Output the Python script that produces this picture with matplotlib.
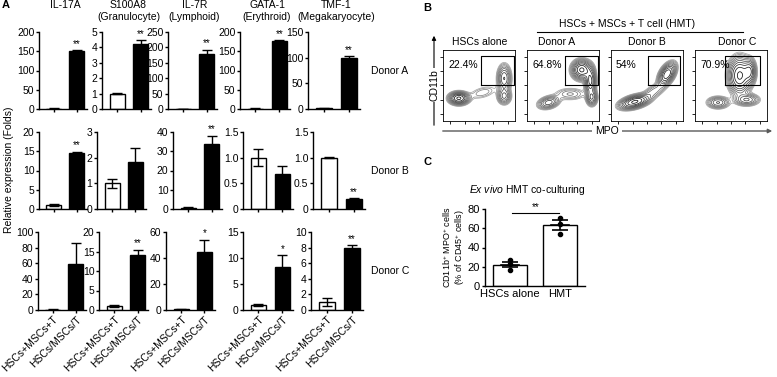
import numpy as np
import matplotlib
matplotlib.use('Agg')
import matplotlib.pyplot as plt

plt.rcParams['font.family'] = ['Liberation Sans', 'DejaVu Sans']
plt.rcParams['mathtext.fontset'] = 'custom'
plt.rcParams['mathtext.rm'] = 'Liberation Sans'
plt.rcParams['mathtext.it'] = 'Liberation Sans:italic'

W, H = 777, 377

# ---------------- panel A data ----------------
genes = ['IL-17A', 'S100A8', 'IL-7R', 'GATA-1', 'TMF-1']
cell_types = ['', '(Granulocyte)', '(Lymphoid)', '(Erythroid)', '(Megakaryocyte)']
donors = ['Donor A', 'Donor B', 'Donor C']
groups = ['HSCs+MSCs+T', 'HSCs/MSCs/T']

a_open = [1, 1.0, 1, 1, 1]
a_open_err = [0.5, 0.05, 0.5, 0.5, 0.5]
a_filled = [150, 4.25, 180, 176, 100]
a_filled_err = [2, 0.2, 12, 2, 3]
a_stars = ['**', '**', '**', '**', '**']
a_ymax = [200, 5, 250, 200, 150]
a_ystep = [50, 1, 50, 50, 50]

b_open = [1.0, 1.0, 0.7, 1.0, 1.0]
b_open_err = [0.2, 0.17, 0.3, 0.16, 0.01]
b_filled = [14.6, 1.85, 34, 0.68, 0.2]
b_filled_err = [0.3, 0.52, 4, 0.16, 0.01]
b_stars = ['**', '', '**', '', '**']
b_ymax = [20, 3, 40, 1.5, 1.5]
b_ystep = [5, 1, 10, 0.5, 0.5]

c_open = [0.5, 1.0, 0.5, 1.0, 1.0]
c_open_err = [0.3, 0.3, 0.3, 0.15, 0.5]
c_filled = [59, 14, 45, 8.2, 8.0]
c_filled_err = [27, 1.5, 9, 2.3, 0.3]
c_stars = ['', '**', '*', '*', '**']
c_ymax = [100, 20, 60, 15, 10]
c_ystep = [20, 5, 20, 5, 2]

rows = [
    (a_open, a_open_err, a_filled, a_filled_err, a_stars, a_ymax, a_ystep),
    (b_open, b_open_err, b_filled, b_filled_err, b_stars, b_ymax, b_ystep),
    (c_open, c_open_err, c_filled, c_filled_err, c_stars, c_ymax, c_ystep),
]

# ---------------- panel B data ----------------
flow_titles = ['HSCs alone', 'Donor A', 'Donor B', 'Donor C']
flow_pct = ['22.4%', '64.8%', '54%', '70.9%']
gate_x = [(0.53, 0.98), (0.53, 0.98), (0.51, 0.96), (0.42, 0.90)]
gate_y = [(0.50, 0.91), (0.50, 0.91), (0.50, 0.91), (0.50, 0.91)]
# populations: centre x, centre y, spread x, spread y, angle, weight
flow_pops = [
    [(0.22, 0.32, 0.07, 0.045, 0, 1.0), (0.85, 0.60, 0.05, 0.10, 0, 0.5),
     (0.85, 0.35, 0.05, 0.06, 0, 0.4), (0.55, 0.40, 0.12, 0.05, 15, 0.1)],
    [(0.76, 0.72, 0.07, 0.07, 0, 0.8), (0.88, 0.56, 0.04, 0.10, 0, 0.6),
     (0.90, 0.33, 0.04, 0.06, 0, 0.4), (0.30, 0.26, 0.08, 0.045, 15, 0.35),
     (0.60, 0.38, 0.12, 0.05, 0, 0.12)],
    [(0.33, 0.27, 0.11, 0.045, 15, 0.9), (0.78, 0.66, 0.05, 0.09, -30, 0.8),
     (0.60, 0.42, 0.10, 0.05, 30, 0.15)],
    [(0.62, 0.64, 0.08, 0.13, 0, 0.8), (0.76, 0.70, 0.045, 0.09, 0, 0.5),
     (0.32, 0.26, 0.08, 0.045, 0, 0.3), (0.72, 0.30, 0.09, 0.045, 0, 0.3)],
]

# ---------------- panel C data ----------------
hmt_groups = ['HSCs alone', 'HMT']
hmt_points = [[27.5, 22.4, 17.0], [70.9, 64.8, 54.0]]


def px(l, t, r, b):
    return [l / W, 1 - b / H, (r - l) / W, (b - t) / H]


fig = plt.figure(figsize=(W / 100, H / 100), dpi=100)
ov = fig.add_axes([0, 0, 1, 1])
ov.set_xlim(0, W)
ov.set_ylim(H, 0)
ov.axis('off')

# ---------------- panel A ----------------
row_tops = [32, 132, 232]
row_bottoms = [109, 209, 310]
row_lefts = [[39, 102, 168, 240, 308], [39, 97, 173, 243, 313], [38, 99, 166, 243, 311]]
widths = [48, 49, 49, 50, 52]

for r, (op, ope, fi, fie, st, ymax, ystep) in enumerate(rows):
    for c in range(5):
        l = row_lefts[r][c]
        ax = fig.add_axes(px(l, row_tops[r], l + widths[c], row_bottoms[r]))
        ax.bar([0, 1], [op[c], fi[c]], width=0.65, color=['white', 'black'],
               edgecolor='black', linewidth=1.0, zorder=2)
        ax.errorbar([0, 1], [op[c], fi[c]], yerr=[ope[c], fie[c]], fmt='none',
                    ecolor='black', elinewidth=1.0, capsize=3.5, capthick=1.0, zorder=3)
        if st[c]:
            ax.annotate(st[c], (1, fi[c] + fie[c]), xytext=(0, 1), textcoords='offset points',
                        ha='center', va='bottom', fontsize=7)
        ax.set_xlim(-0.65, 1.45)
        ax.set_ylim(0, ymax[c])
        ticks = np.arange(0, ymax[c] + ystep[c] / 2, ystep[c])
        ax.set_yticks(ticks)
        if ystep[c] < 1:
            ax.set_yticklabels(['0' if v == 0 else f'{v:.1f}' for v in ticks])
        else:
            ax.set_yticklabels([f'{v:g}' for v in ticks])
        ax.set_xticks([0, 1])
        if r == 2:
            ax.set_xticklabels(groups, rotation=45, ha='right', rotation_mode='anchor', fontsize=7.5)
        else:
            ax.set_xticklabels([])
        for s in ['top', 'right']:
            ax.spines[s].set_visible(False)
        for s in ['left', 'bottom']:
            ax.spines[s].set_linewidth(1.0)
        ax.tick_params(length=2.5, width=1.0, labelsize=7.5, pad=0.8)
        ax.patch.set_alpha(0)

    ov.text(371, (row_tops[r] + row_bottoms[r]) / 2, donors[r], fontsize=7.5, va='center', ha='left')

for c in range(5):
    xc = row_lefts[0][c] + widths[c] / 2 + 2
    ov.text(xc, 5, genes[c], fontsize=7.5, ha='center', va='center')
    if cell_types[c]:
        ov.text(xc, 17, cell_types[c], fontsize=7.5, ha='center', va='center')

ov.text(2, 5, 'A', fontsize=8, fontweight='bold', va='center')
ov.text(9, 170, 'Relative expression (Folds)', fontsize=7.5, rotation=90, ha='center', va='center')

# ---------------- panel B ----------------
ov.text(423, 8, 'B', fontsize=8, fontweight='bold', va='center')
ov.text(627, 24, 'HSCs + MSCs + T cell (HMT)', fontsize=7.5, ha='center', va='center')
ov.plot([537, 743], [32, 32], color='black', lw=0.8)

gx, gy = np.meshgrid(np.linspace(0, 1, 160), np.linspace(0, 1, 160))


def density(pops):
    z = np.zeros_like(gx)
    for cx, cy, sx, sy, ang, w in pops:
        t = np.deg2rad(ang)
        dx, dy = gx - cx, gy - cy
        u = dx * np.cos(t) + dy * np.sin(t)
        v = -dx * np.sin(t) + dy * np.cos(t)
        z += w * np.exp(-0.5 * ((u / sx) ** 2 + (v / sy) ** 2))
    return z


flow_lefts = [443, 527, 611, 695]
title_x = [480, 557, 647, 737]
for i in range(4):
    l = flow_lefts[i]
    ax = fig.add_axes(px(l, 50, l + 72, 121))
    z = density(flow_pops[i])
    levels = z.max() * np.geomspace(0.04, 0.92, 11)
    cols = plt.cm.Greys(np.linspace(0.45, 0.95, len(levels)))
    ax.contour(gx, gy, z, levels=levels, colors=cols, linewidths=0.55)
    g0, g1 = gate_x[i]
    h0, h1 = gate_y[i]
    ax.plot([g0, g1, g1, g0, g0], [h0, h0, h1, h1, h0], color='black', lw=0.8)
    ax.text(0.07, 0.79, flow_pct[i], fontsize=7.5, transform=ax.transAxes, va='center')
    ax.set_xlim(0, 1)
    ax.set_ylim(0, 1)
    ax.set_xticks([0.1, 0.3, 0.5, 0.7, 0.9])
    ax.set_yticks([0.1, 0.3, 0.5, 0.7, 0.9])
    ax.set_xticklabels([])
    ax.set_yticklabels([])
    ax.tick_params(length=2, width=0.6)
    for s in ax.spines.values():
        s.set_linewidth(0.6)
    ov.text(title_x[i], 42, flow_titles[i], fontsize=7.5, ha='center', va='center')

ov.annotate('', xy=(434, 33), xytext=(434, 128),
            arrowprops=dict(arrowstyle='-|>', color='black', lw=0.8, mutation_scale=6))
ov.text(434, 85, 'CD11b', rotation=90, fontsize=7.5, ha='center', va='center',
        bbox=dict(facecolor='white', edgecolor='none', pad=1))
ov.annotate('', xy=(775, 131), xytext=(440, 131),
            arrowprops=dict(arrowstyle='-|>', color='0.35', lw=1.0, mutation_scale=6))
ov.text(607, 131, 'MPO', fontsize=7.5, ha='center', va='center',
        bbox=dict(facecolor='white', edgecolor='none', pad=2))

# ---------------- panel C ----------------
ov.text(423, 162, 'C', fontsize=8, fontweight='bold', va='center')
ov.text(527, 190, r'$\it{Ex\ vivo}$ HMT co-culturing', fontsize=7.5, ha='center', va='center')

axc = fig.add_axes(px(485, 209, 585, 286))
means = [np.mean(p) for p in hmt_points]
sems = [np.std(p, ddof=1) / np.sqrt(len(p)) for p in hmt_points]
axc.bar([0, 1], means, width=0.68, color='white', edgecolor='black', linewidth=1.0)
for i, pts in enumerate(hmt_points):
    axc.plot([i] * len(pts), pts, 'o', color='black', markersize=3, zorder=4)
    axc.plot([i - 0.18, i + 0.18], [means[i], means[i]], color='black', lw=1.2, zorder=4)
    axc.errorbar([i], [means[i]], yerr=[sems[i]], fmt='none', ecolor='black',
                 elinewidth=1.2, capsize=6, capthick=1.2, zorder=4)
axc.plot([0.04, 0.98], [76, 76], color='black', lw=0.8)
axc.text(0.51, 77, '**', fontsize=7, ha='center', va='bottom')
axc.set_xlim(-0.5, 1.5)
axc.set_ylim(0, 80)
axc.set_yticks([0, 20, 40, 60, 80])
axc.set_xticks([0, 1])
axc.set_xticklabels(hmt_groups)
for s in ['top', 'right']:
    axc.spines[s].set_visible(False)
for s in ['left', 'bottom']:
    axc.spines[s].set_linewidth(1.0)
axc.tick_params(axis='y', length=2.5, width=1.0, labelsize=8, pad=1)
axc.tick_params(axis='x', length=0, labelsize=8, pad=2)
axc.patch.set_alpha(0)
ov.text(454, 247, 'CD11b$^{+}$ MPO$^{+}$ cells\n(% of CD45$^{+}$ cells)', rotation=90,
        fontsize=6.5, ha='center', va='center', linespacing=1.1, multialignment='center')

fig.savefig('out.png', dpi=100)
